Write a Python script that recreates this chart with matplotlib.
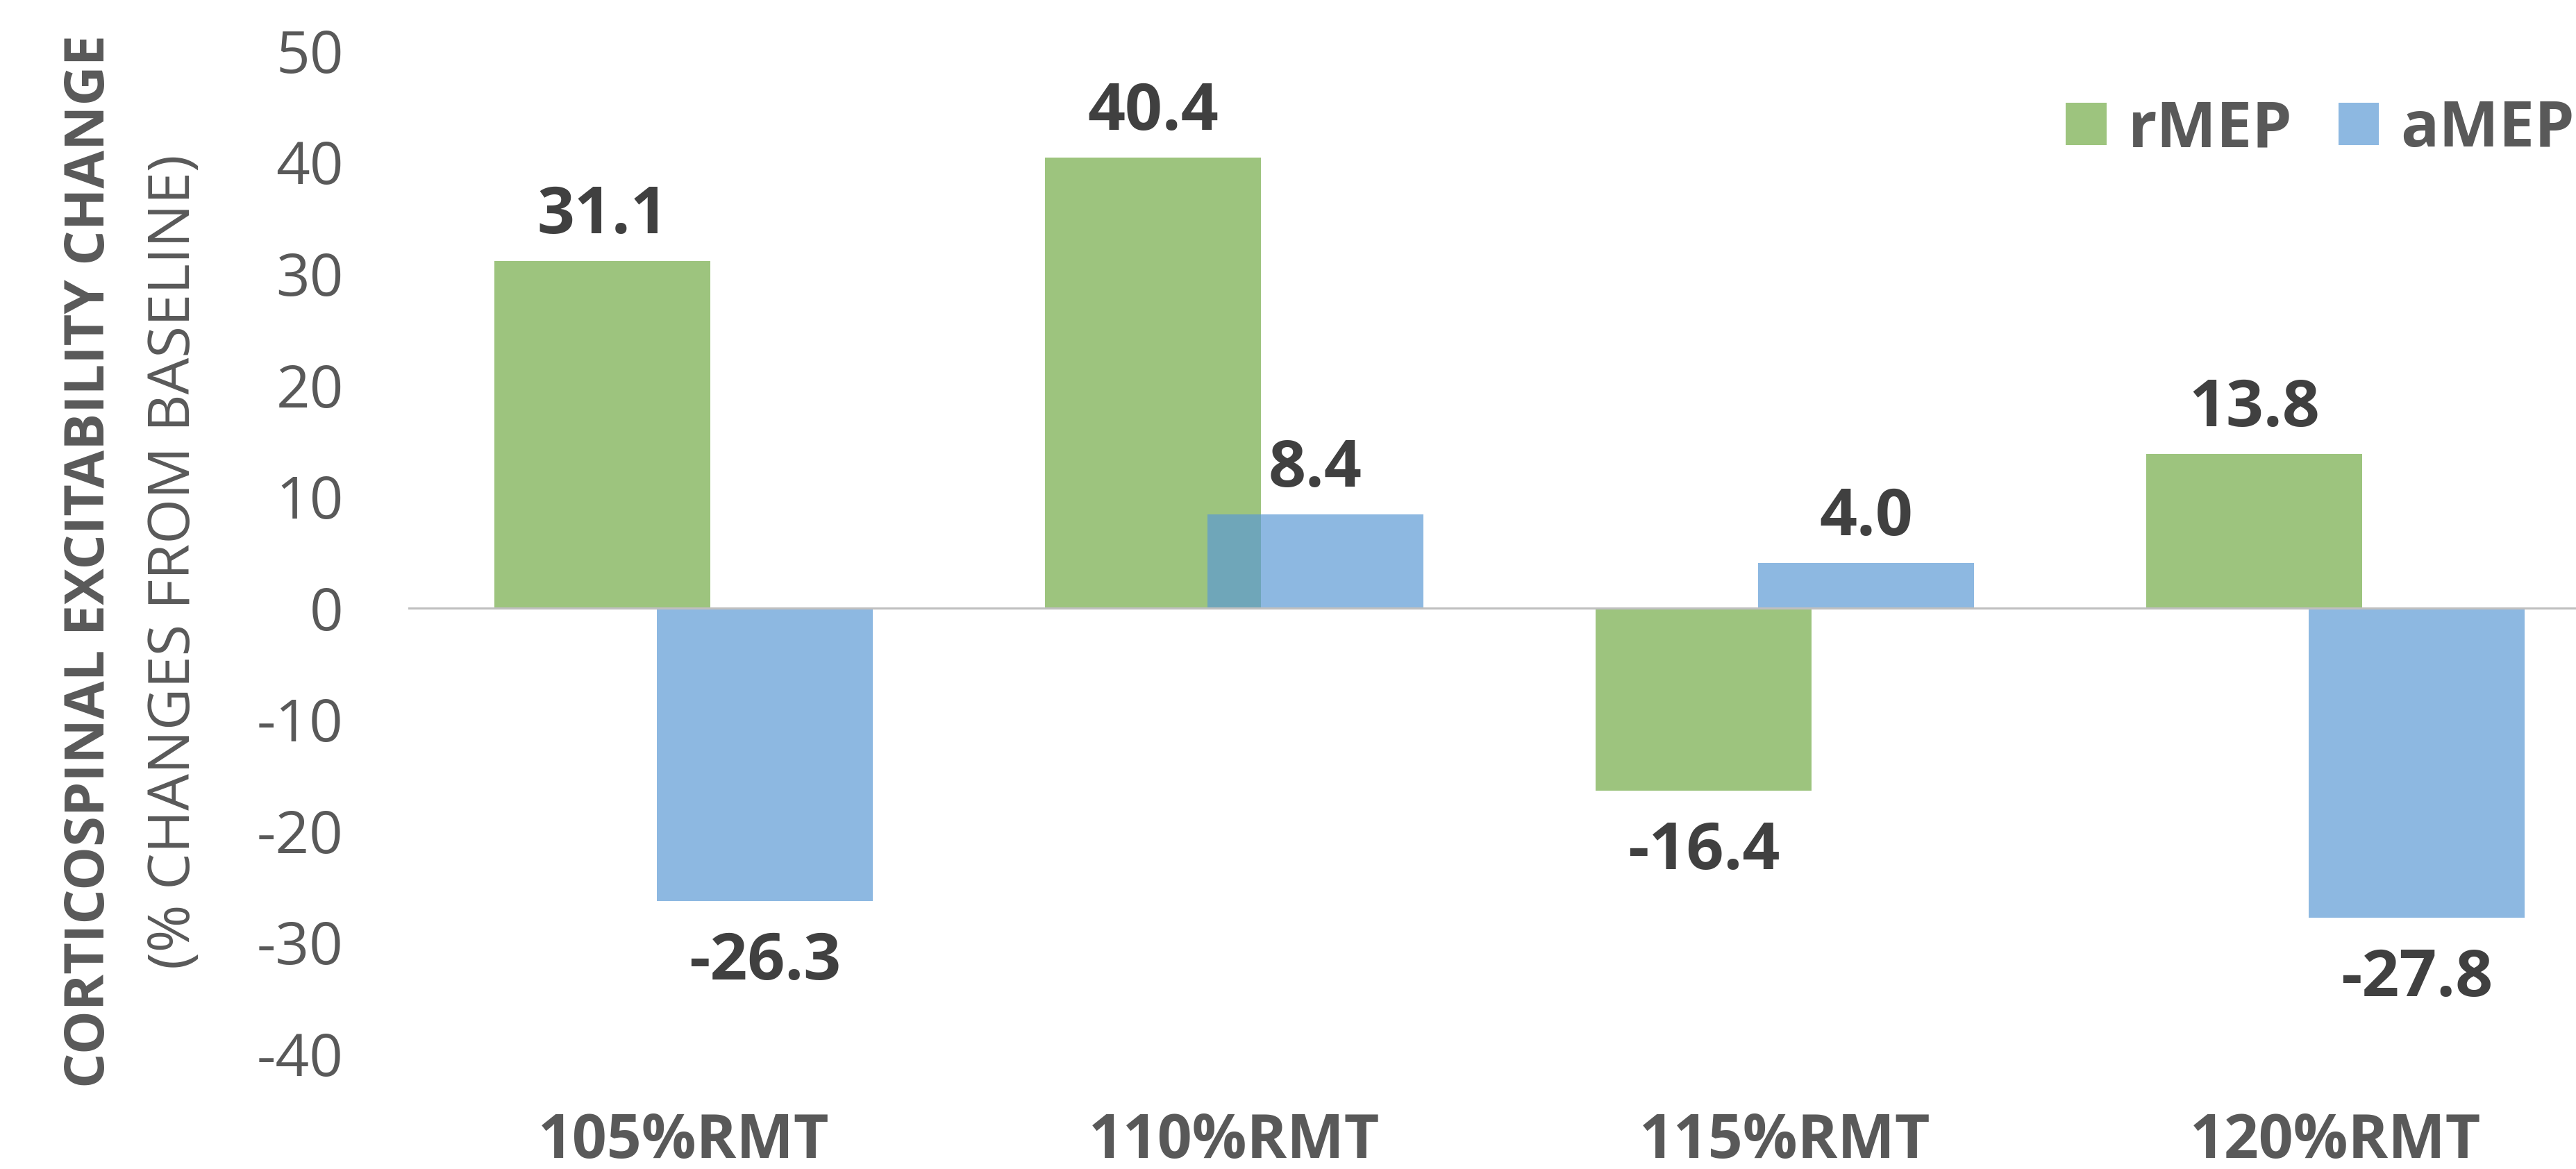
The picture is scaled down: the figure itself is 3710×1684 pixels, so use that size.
import numpy as np
import matplotlib.pyplot as plt

plt.rcParams['font.family'] = ['Open Sans', 'DejaVu Sans']
plt.rcParams['axes.unicode_minus'] = False

# data
categories = ['105%RMT', '110%RMT', '115%RMT', '120%RMT']
rmep = [31.1, 40.4, -16.4, 13.8]
amep = [-26.3, 8.4, 4.0, -27.8]
series_names = ['rMEP', 'aMEP']
yticks = list(range(-40, 60, 10))

green = '#9DC47E'
blue = '#5B99D4'
text_grey = '#595959'
label_grey = '#404040'

fig = plt.figure(figsize=(37.1, 16.84), dpi=100)
# axes runs a little past the right edge, like the cropped original
ax = fig.add_axes([0.1585, 0.0986, 0.855, 0.8581])

x = np.arange(len(categories))
width = 0.392
offset = 0.1475

bars_r = ax.bar(x - offset, rmep, width, color=green, zorder=2, label=series_names[0])
bars_a = ax.bar(x + offset, amep, width, color=blue, alpha=0.695, zorder=2, label=series_names[1])
ax.axhline(0, color='#BFBFBF', lw=2.2, zorder=3)

# value labels above / below each bar
for bars, vals in [(bars_r, rmep), (bars_a, amep)]:
    for rect, v in zip(bars, vals):
        cx = rect.get_x() + rect.get_width() / 2
        dy = 28.8 if v > 0 else -81.4
        ax.annotate(f'{v:.1f}', xy=(cx, v), xytext=(0, dy), textcoords='offset points',
                    ha='center', va='baseline', fontsize=68, fontweight='bold',
                    color=label_grey)

ax.set_xlim(-0.5, 3.5)
ax.set_ylim(-40, 50)
ax.set_yticks(yticks)
ax.set_xticks(x)
ax.set_xticklabels(categories, fontsize=63, fontweight='bold', color=text_grey)
ax.tick_params(axis='y', length=0, pad=67, labelsize=61.5, labelcolor=text_grey)
ax.tick_params(axis='x', length=0, pad=60)
for s in ax.spines.values():
    s.set_visible(False)

# two-line y axis title
fig.text(130 / 3710, 1 - 808 / 1684, 'CORTICOSPINAL EXCITABILITY CHANGE', rotation=90,
         ha='center', va='center', fontsize=57, fontweight='bold', color=text_grey)
fig.text(252 / 3710, 1 - 809 / 1684, '(% CHANGES FROM BASELINE)', rotation=90,
         ha='center', va='center', fontsize=60, color=text_grey)

ax.legend(loc='center left', bbox_to_anchor=(2975 / 3710, 1 - 187 / 1684),
          bbox_transform=fig.transFigure, ncol=2, frameon=False,
          prop={'size': 66, 'weight': 'bold'}, labelcolor=text_grey,
          handlelength=0.64, handleheight=0.64, handletextpad=0.34,
          columnspacing=0.72, borderpad=0, borderaxespad=0)

fig.savefig('out.png', dpi=100)
